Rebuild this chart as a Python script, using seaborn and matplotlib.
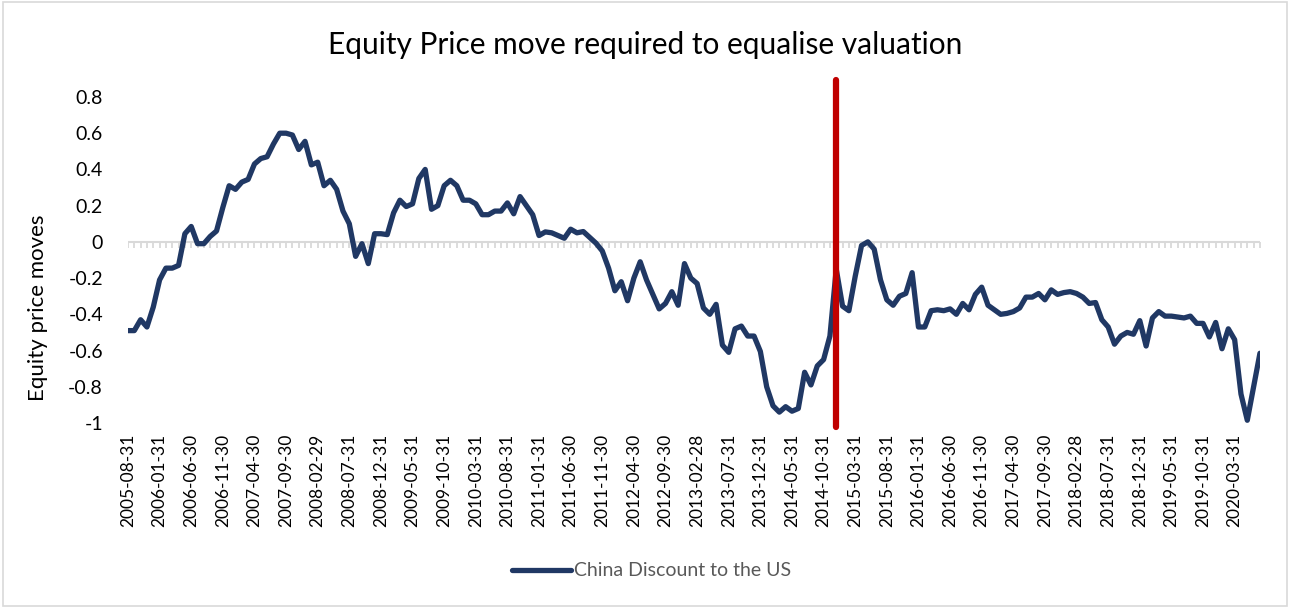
import pandas as pd
import seaborn as sns
import matplotlib.pyplot as plt
from matplotlib.patches import Rectangle

# --- DATA ---
# monthly month-end observations, 2005-08-31 .. 2020-07-31
START_DATE = "2005-08-31"
N_MONTHS = 180
SERIES_NAME = "China Discount to the US"
MARKER_DATE = "2014-12-31"

china_discount = [
    -0.49, -0.49, -0.43, -0.47, -0.36, -0.21, -0.145, -0.145, -0.13, 0.045,
    0.085, -0.01, -0.01, 0.03, 0.06, 0.19, 0.31, 0.29, 0.33, 0.345,
    0.43, 0.46, 0.47, 0.54, 0.60, 0.60, 0.59, 0.51, 0.555, 0.425,
    0.44, 0.31, 0.34, 0.29, 0.17, 0.10, -0.08, -0.01, -0.12, 0.045,
    0.045, 0.04, 0.16, 0.23, 0.195, 0.21, 0.35, 0.40, 0.18, 0.20,
    0.31, 0.34, 0.31, 0.23, 0.23, 0.21, 0.15, 0.15, 0.17, 0.17,
    0.215, 0.155, 0.25, 0.20, 0.15, 0.035, 0.055, 0.05, 0.035, 0.02,
    0.07, 0.05, 0.057, 0.025, -0.007, -0.05, -0.145, -0.27, -0.22, -0.325,
    -0.20, -0.11, -0.21, -0.29, -0.37, -0.34, -0.275, -0.35, -0.12, -0.20,
    -0.23, -0.365, -0.40, -0.345, -0.57, -0.61, -0.48, -0.465, -0.52, -0.52,
    -0.605, -0.80, -0.905, -0.94, -0.91, -0.935, -0.92, -0.72, -0.79, -0.685,
    -0.65, -0.52, -0.15, -0.355, -0.38, -0.19, -0.02, 0.0, -0.04, -0.21,
    -0.32, -0.35, -0.30, -0.285, -0.17, -0.47, -0.47, -0.38, -0.375, -0.38,
    -0.37, -0.40, -0.34, -0.375, -0.29, -0.25, -0.35, -0.375, -0.40, -0.395,
    -0.385, -0.365, -0.305, -0.305, -0.285, -0.32, -0.265, -0.29, -0.28, -0.275,
    -0.285, -0.305, -0.34, -0.335, -0.43, -0.47, -0.565, -0.52, -0.50, -0.51,
    -0.435, -0.575, -0.42, -0.385, -0.41, -0.41, -0.415, -0.42, -0.41, -0.45,
    -0.45, -0.525, -0.445, -0.59, -0.48, -0.54, -0.84, -0.985, -0.80, -0.615,
]

y_ticks = [0.8, 0.6, 0.4, 0.2, 0, -0.2, -0.4, -0.6, -0.8, -1]
y_tick_labels = ["0.8", "0.6", "0.4", "0.2", "0", "-0.2", "-0.4", "-0.6", "-0.8", "-1"]

NAVY = "#203864"
RED = "#C00000"
GRID = "#D9D9D9"


def main():
    dates = pd.date_range(START_DATE, periods=N_MONTHS, freq="ME")
    df = pd.DataFrame({
        "pos": range(N_MONTHS),
        "date": dates.strftime("%Y-%m-%d"),
        "value": china_discount,
    })

    sns.set_style("white")
    plt.rcParams["font.family"] = ["Lato", "DejaVu Sans"]
    plt.rcParams["text.color"] = "black"
    plt.rcParams["axes.labelcolor"] = "black"

    fig = plt.figure(figsize=(12.9, 6.08), dpi=100)
    ax = fig.add_axes([0.0992, 0.3043, 0.8775, 0.5362])

    sns.lineplot(data=df, x="pos", y="value", ax=ax, color=NAVY,
                 linewidth=3.8, label=SERIES_NAME, zorder=4)

    # zero line with monthly tick marks (Excel category axis crossing at 0)
    ax.axhline(0, color=GRID, lw=1.5, zorder=2)
    ax.plot(df["pos"], [0] * N_MONTHS, linestyle="none", marker=3,
            markersize=4.5, markeredgewidth=1.3, color=GRID, zorder=2)

    # red marker line, runs a little past the plot area
    marker_pos = df.index[df["date"] == MARKER_DATE][0]
    ax.axvline(marker_pos, ymin=-0.012, ymax=1.052, color=RED, lw=4.5,
               clip_on=False, zorder=5)

    ax.set_xlim(0, N_MONTHS - 1)
    ax.set_ylim(-1, 0.8)
    ax.set_yticks(y_ticks)
    ax.set_yticklabels(y_tick_labels)
    ax.set_xticks(df["pos"][::5])
    ax.set_xticklabels(df["date"][::5], rotation=90)
    ax.tick_params(axis="both", length=0, colors="black")
    ax.tick_params(axis="x", pad=8, labelsize=12.5)
    ax.tick_params(axis="y", pad=18, labelsize=14)
    for s in ax.spines.values():
        s.set_visible(False)

    ax.set_xlabel("")
    ax.set_ylabel("Equity price moves", fontsize=16)
    ax.yaxis.set_label_coords(-0.0705, 0.353)
    fig.suptitle("Equity Price move required to equalise valuation",
                 fontsize=21.5, x=0.5, y=0.926, va="center")

    ax.legend(loc="center", bbox_to_anchor=(0.505, 0.061),
              bbox_transform=fig.transFigure, frameon=False,
              fontsize=14, handlelength=3.0, handletextpad=0.15,
              labelcolor="#595959")

    # chart-area border
    fig.patches.append(Rectangle((0.002, 0.003), 0.996, 0.994,
                                 transform=fig.transFigure, fill=False,
                                 edgecolor=GRID, lw=1.2))

    fig.savefig("out.png", dpi=100)


if __name__ == "__main__":
    main()
